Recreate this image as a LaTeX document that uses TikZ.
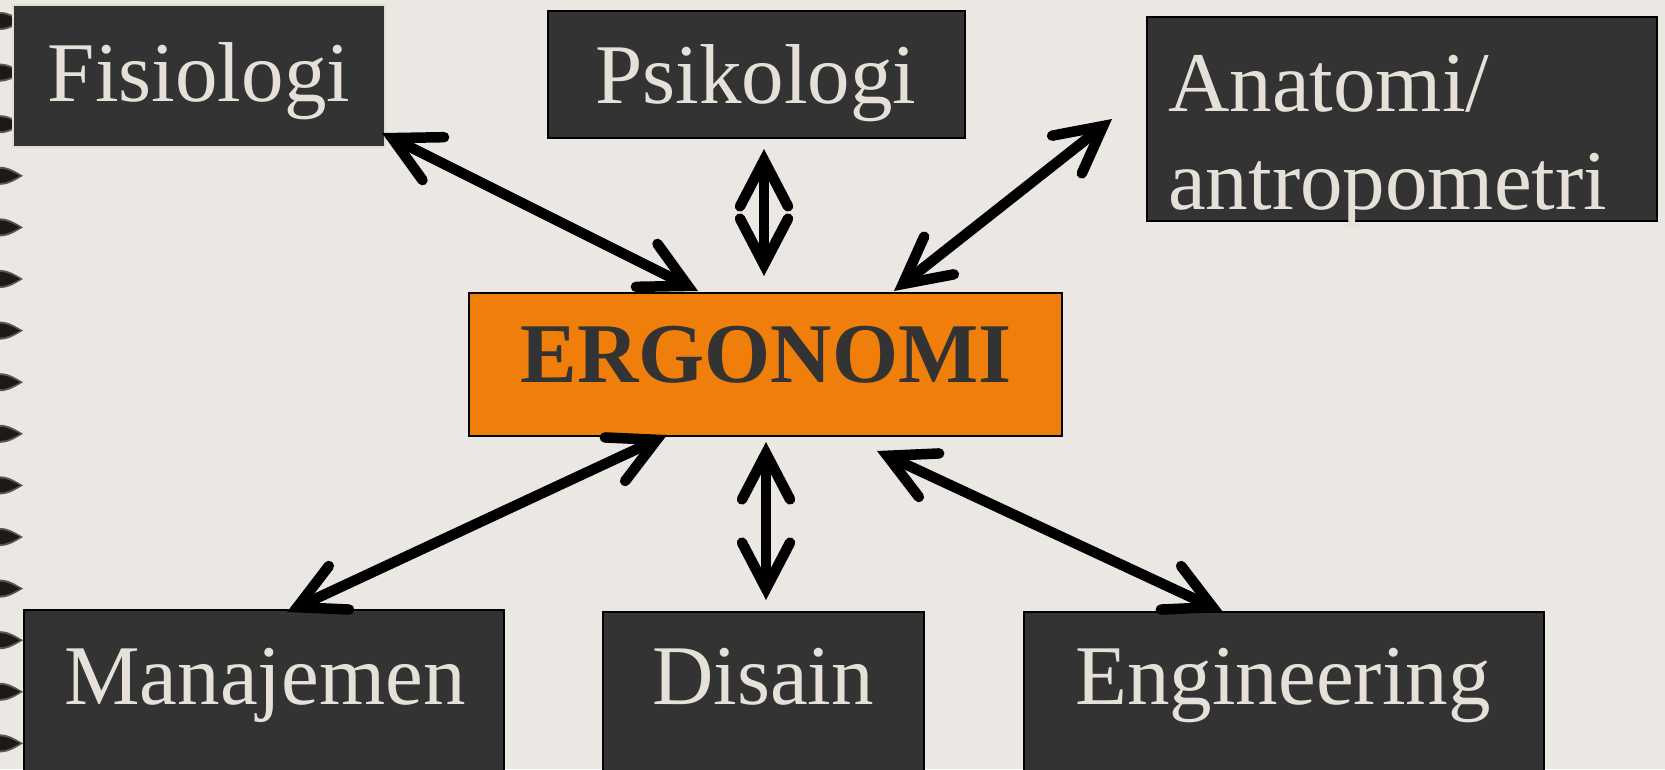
\documentclass[tikz,border=0pt]{standalone}
\usepackage{fontspec}
\setmainfont{Liberation Serif}
\usetikzlibrary{arrows.meta}
\definecolor{bg}{HTML}{EBE7E2}
\definecolor{boxc}{HTML}{333333}
\definecolor{txt}{HTML}{E6E1D8}
\definecolor{org}{HTML}{EF7E0A}
\definecolor{dotc}{HTML}{1C1A14}
\begin{document}
\begin{tikzpicture}[x=1pt,y=-1pt,
  box/.style={fill=boxc,draw=black,line width=2pt,inner sep=0pt,outer sep=0pt,anchor=north west},
  lab/.style={text=txt,font=\fontsize{85}{98}\selectfont,inner sep=0pt},
  link/.style={line width=10.5pt,line cap=round,{Straight Barb[length=46pt,width=48pt,line cap=round,line join=miter]}-{Straight Barb[length=46pt,width=48pt,line cap=round,line join=miter]}}
]
\fill[bg] (0,0) rectangle (1665,769);
\useasboundingbox (0,0) rectangle (1665,769);
% binding dots
\foreach \i in {0,...,14}{
  \pgfmathsetmacro{\yy}{21+51.6*\i}
  \fill[dotc!70!bg] (0,\yy-9) .. controls (9,\yy-9) and (16,\yy-4) .. (23,\yy) .. controls (16,\yy+4) and (9,\yy+9) .. (0,\yy+9) -- cycle;
  \fill[dotc] (0,\yy-7) .. controls (8,\yy-7) and (14,\yy-3) .. (20,\yy) .. controls (14,\yy+3) and (8,\yy+7) .. (0,\yy+7) -- cycle;
}
% boxes
\node[box,draw={rgb,255:red,224;green,220;blue,208},minimum width=372pt,minimum height=142pt] (fisbox) at (13,5) {};
\node[box,minimum width=417pt,minimum height=127pt] (psibox) at (548,11) {};
\node[box,minimum width=510pt,minimum height=204pt] (anabox) at (1147,17) {};
\node[box,fill=org,minimum width=593pt,minimum height=143pt] (ergbox) at (469,293) {};
\node[box,minimum width=480pt,minimum height=170pt] (manbox) at (24,610) {};
\node[box,minimum width=321pt,minimum height=170pt] (disbox) at (603,612) {};
\node[box,minimum width=520pt,minimum height=170pt] (engbox) at (1024,612) {};
% labels
\node[lab,anchor=base] (fis) at (199,101) {Fisiologi};
\node[lab,anchor=base] (psi) at (756,103) {Psikologi};
\node[lab,anchor=base west,align=left] (ana) at (1168,209) {Anatomi/\\antropometri};
\node[lab,anchor=base,text=boxc,font=\fontsize{85}{98}\selectfont\bfseries] (erg) at (766,382) {ERGONOMI};
\node[lab,anchor=base] (man) at (265,704) {Manajemen};
\node[lab,anchor=base] (dis) at (763,704) {Disain};
\node[lab,anchor=base] (eng) at (1283,704) {Engineering};
% connector end points
\coordinate (f1) at (382,133);  \coordinate (f2) at (698,291);
\coordinate (p1) at (764,149);  \coordinate (p2) at (764,276);
\coordinate (a1) at (1112,119); \coordinate (a2) at (894,291);
\coordinate (m1) at (667,435);  \coordinate (m2) at (287,612);
\coordinate (d1) at (766,442);  \coordinate (d2) at (766,600);
\coordinate (e1) at (877,451);  \coordinate (e2) at (1223,612);
\draw[link] (f1) -- (f2);
\draw[link] (p1) -- (p2);
\draw[link] (a1) -- (a2);
\draw[link] (m1) -- (m2);
\draw[link] (d1) -- (d2);
\draw[link] (e1) -- (e2);
\end{tikzpicture}
\end{document}
